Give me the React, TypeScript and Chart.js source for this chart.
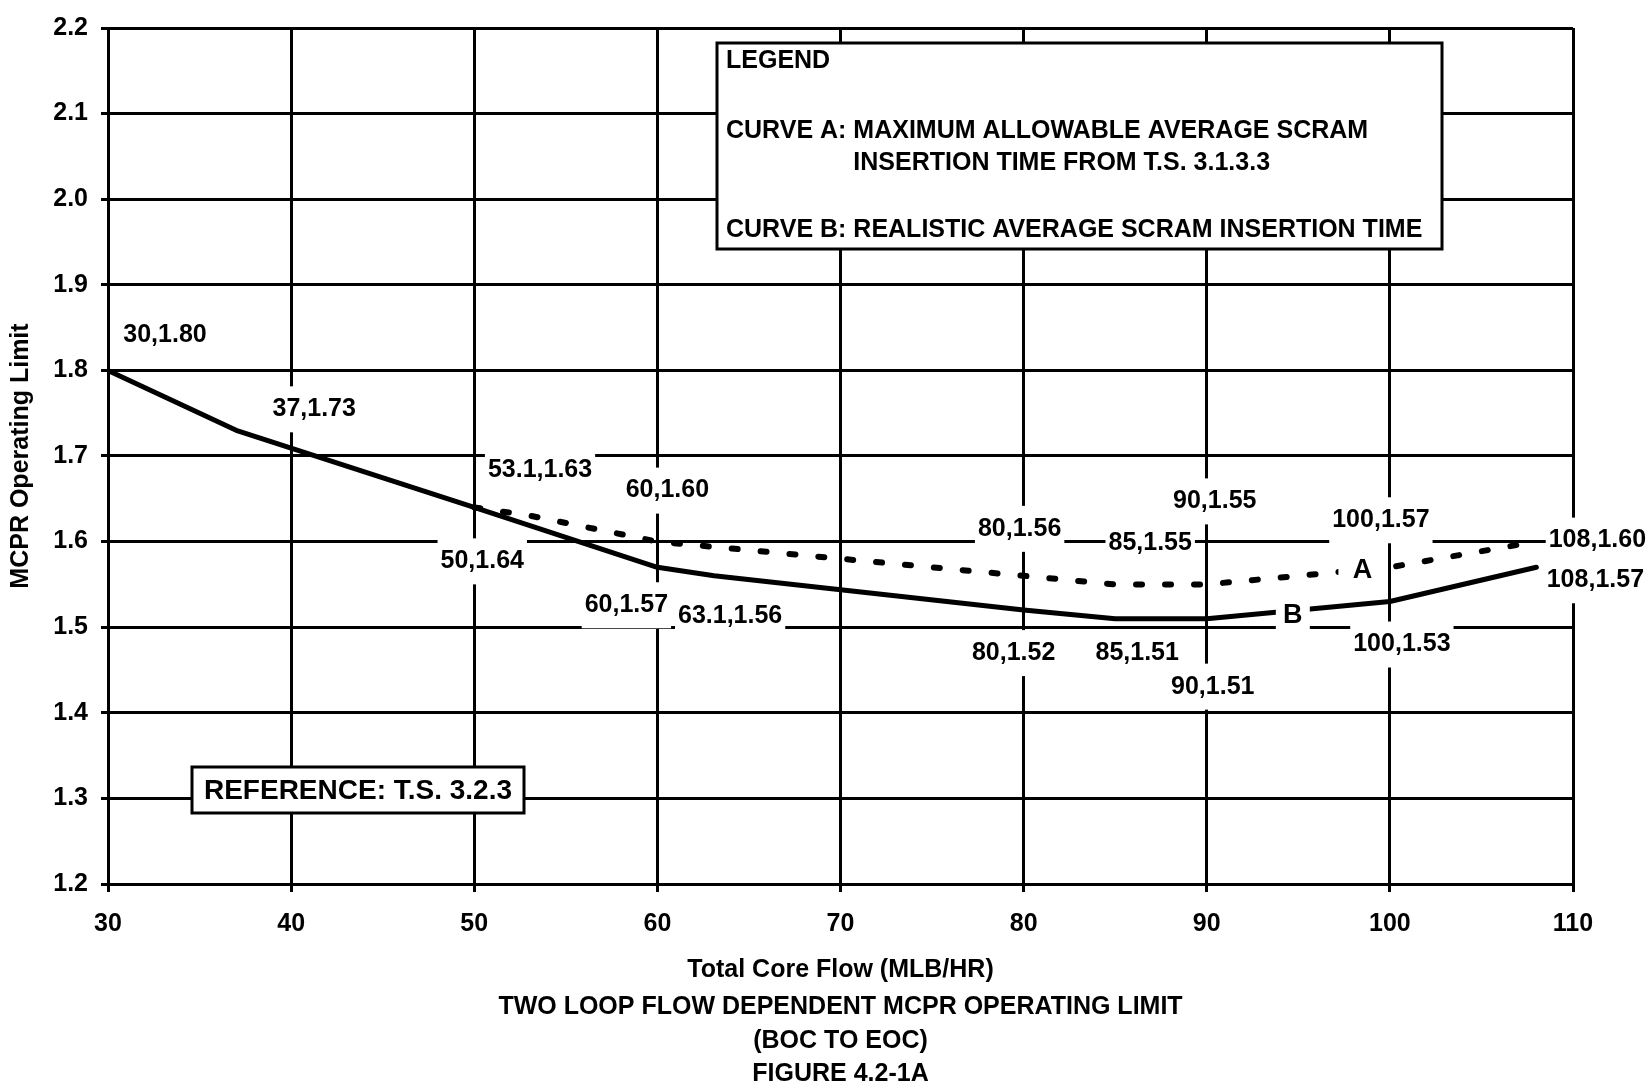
import { useEffect, useRef } from "react";
import { Chart, registerables } from "chart.js";

Chart.register(...registerables);

// Curve B: realistic average scram insertion time
const FLOW_B = [30, 37, 50, 60, 63.1, 80, 85, 90, 100, 108];
const MCPR_B = [1.8, 1.73, 1.64, 1.57, 1.56, 1.52, 1.51, 1.51, 1.53, 1.57];

// Curve A: maximum allowable average scram insertion time
const FLOW_A = [50, 53.1, 60, 80, 85, 90, 100, 108];
const MCPR_A = [1.64, 1.63, 1.6, 1.56, 1.55, 1.55, 1.57, 1.6];

const X_MIN = 30;
const X_MAX = 110;
const X_STEP = 10;
const Y_MIN = 1.2;
const Y_MAX = 2.2;
const Y_STEP = 0.1;

const X_TITLE = "Total Core Flow (MLB/HR)";
const Y_TITLE = "MCPR Operating Limit";
const CAPTION = [
  "TWO LOOP FLOW DEPENDENT MCPR OPERATING LIMIT",
  "(BOC TO EOC)",
  "FIGURE 4.2-1A",
];
const LEGEND_TITLE = "LEGEND";
const CURVE_A_PREFIX = "CURVE A: ";
const CURVE_A_LINES = ["MAXIMUM ALLOWABLE AVERAGE SCRAM", "INSERTION TIME FROM T.S. 3.1.3.3"];
const CURVE_B_LINE = "CURVE B: REALISTIC AVERAGE SCRAM INSERTION TIME";
const REFERENCE_TEXT = "REFERENCE: T.S. 3.2.3";

// Pixel offsets of each point's "flow,limit" label from the point (null = no label)
const LABEL_OFFSETS_B = [
  [57, -35], [78, -21], [8, 54], [-31, 38], [16, 40],
  [-10, 43], [22, 34], [6, 68], [12, 43], [59, 13],
];
const LABEL_OFFSETS_A = [
  null, [9, -46], [10, -51], [-4, -47], [35, -41], [8, -83], [-9, -47], [61, -1],
];

// Curve letters sit on their own curve at these flows
const TAG_A_FLOW = 98.5;
const TAG_B_FLOW = 94.7;

const FAMILY = "'Liberation Sans', Arial, Helvetica, sans-serif";
const bold = (size: number) => `bold ${size}px ${FAMILY}`;

function interpolate(xs: number[], ys: number[], x: number): number {
  for (let i = 0; i < xs.length - 1; i++) {
    if (x >= xs[i] && x <= xs[i + 1]) {
      const t = (x - xs[i]) / (xs[i + 1] - xs[i]);
      return ys[i] + t * (ys[i + 1] - ys[i]);
    }
  }
  return ys[ys.length - 1];
}

const figureText = {
  id: "figureText",
  beforeDraw(chart: any) {
    const { ctx, width, height } = chart;
    ctx.save();
    ctx.fillStyle = "#fff";
    ctx.fillRect(0, 0, width, height);
    ctx.restore();
  },
  afterDatasetsDraw(chart: any) {
    const { ctx } = chart;
    const xs = chart.scales.x;
    const ys = chart.scales.y;
    ctx.save();

    // value labels on white boxes
    const items: { text: string; cx: number; cy: number }[] = [];
    const collect = (flows: number[], vals: number[], offs: (number[] | null)[]) => {
      flows.forEach((f, i) => {
        const o = offs[i];
        if (!o) return;
        items.push({
          text: `${f},${vals[i].toFixed(2)}`,
          cx: xs.getPixelForValue(f) + o[0],
          cy: ys.getPixelForValue(vals[i]) + o[1],
        });
      });
    };
    collect(FLOW_B, MCPR_B, LABEL_OFFSETS_B);
    collect(FLOW_A, MCPR_A, LABEL_OFFSETS_A);

    ctx.font = bold(25);
    ctx.fillStyle = "#fff";
    items.forEach((it) => {
      const w = ctx.measureText(it.text).width + 6;
      ctx.fillRect(it.cx - w / 2, it.cy - 23, w, 46);
    });
    ctx.fillStyle = "#000";
    ctx.textAlign = "center";
    ctx.textBaseline = "middle";
    items.forEach((it) => ctx.fillText(it.text, it.cx, it.cy));

    // curve letters breaking their curves
    const tags = [
      { text: "A", flow: TAG_A_FLOW, val: interpolate(FLOW_A, MCPR_A, TAG_A_FLOW), w: 48, dy: 0 },
      { text: "B", flow: TAG_B_FLOW, val: interpolate(FLOW_B, MCPR_B, TAG_B_FLOW), w: 34, dy: 4 },
    ];
    ctx.font = bold(27);
    tags.forEach((t) => {
      const cx = xs.getPixelForValue(t.flow);
      const cy = ys.getPixelForValue(t.val) + t.dy;
      ctx.fillStyle = "#fff";
      ctx.fillRect(cx - t.w / 2, cy - 15, t.w, 30);
      ctx.fillStyle = "#000";
      ctx.fillText(t.text, cx, cy + 1);
    });

    // legend box
    const lx = 717, ly = 43, lw = 725, lh = 206;
    ctx.fillStyle = "#fff";
    ctx.fillRect(lx, ly, lw, lh);
    ctx.strokeStyle = "#000";
    ctx.lineWidth = 3;
    ctx.strokeRect(lx, ly, lw, lh);
    ctx.fillStyle = "#000";
    ctx.font = bold(25);
    ctx.textAlign = "left";
    const tx = lx + 9;
    ctx.fillText(LEGEND_TITLE, tx, ly + 18);
    ctx.fillText(CURVE_A_PREFIX + CURVE_A_LINES[0], tx, ly + 88);
    const indent = ctx.measureText(CURVE_A_PREFIX).width;
    ctx.fillText(CURVE_A_LINES[1], tx + indent, ly + 120);
    ctx.fillText(CURVE_B_LINE, tx, ly + 187);

    // reference box
    const rx = 192, ry = 767, rw = 332, rh = 46;
    ctx.fillStyle = "#fff";
    ctx.fillRect(rx, ry, rw, rh);
    ctx.strokeRect(rx, ry, rw, rh);
    ctx.fillStyle = "#000";
    ctx.font = bold(28);
    ctx.textAlign = "center";
    ctx.fillText(REFERENCE_TEXT, rx + rw / 2, ry + rh / 2 + 1);

    ctx.restore();
  },
  afterDraw(chart: any) {
    const { ctx, chartArea } = chart;
    ctx.save();
    ctx.fillStyle = "#000";
    ctx.font = bold(25);
    ctx.textAlign = "center";
    ctx.textBaseline = "middle";
    const cx = (chartArea.left + chartArea.right) / 2;
    const ys = [1007, 1041, 1074];
    CAPTION.forEach((line, i) => ctx.fillText(line, cx, ys[i]));
    ctx.restore();
  },
};

export default function App() {
  const canvasRef = useRef<HTMLCanvasElement | null>(null);

  useEffect(() => {
    document.body.style.margin = "0";
    document.body.style.overflow = "hidden";
    const canvas = canvasRef.current;
    if (!canvas) return;

    const tickFont = { family: FAMILY, size: 25, weight: "bold" as const };

    const chart = new Chart(canvas, {
      type: "line",
      data: {
        datasets: [
          {
            label: "Curve B",
            data: FLOW_B.map((f, i) => ({ x: f, y: MCPR_B[i] })),
            borderColor: "#000",
            borderWidth: 5,
            pointRadius: 0,
            tension: 0,
            fill: false,
            borderJoinStyle: "round",
            borderCapStyle: "round",
          },
          {
            label: "Curve A",
            data: FLOW_A.map((f, i) => ({ x: f, y: MCPR_A[i] })),
            borderColor: "#000",
            borderWidth: 6,
            borderDash: [6, 23],
            borderCapStyle: "round",
            pointRadius: 0,
            tension: 0,
            fill: false,
          },
        ],
      },
      options: {
        responsive: false,
        animation: false,
        devicePixelRatio: 1,
        layout: { padding: { left: 0, right: 78, top: 24, bottom: 90 } },
        plugins: {
          legend: { display: false },
          tooltip: { enabled: false },
          title: { display: false },
        },
        scales: {
          x: {
            type: "linear",
            min: X_MIN,
            max: X_MAX,
            ticks: {
              stepSize: X_STEP,
              color: "#000",
              font: tickFont,
              padding: 17,
              maxRotation: 0,
            },
            grid: {
              color: "#000",
              lineWidth: 3,
              tickLength: 8,
              tickWidth: 3,
              tickColor: "#000",
            },
            border: { color: "#000", width: 3 },
            title: {
              display: true,
              text: X_TITLE,
              color: "#000",
              font: tickFont,
              padding: { top: 0, bottom: 11 },
            },
            afterFit(scale: any) {
              scale.height = 112;
            },
          },
          y: {
            type: "linear",
            min: Y_MIN,
            max: Y_MAX,
            ticks: {
              stepSize: Y_STEP,
              color: "#000",
              font: tickFont,
              padding: 13,
              callback: (v: any) => Number(v).toFixed(1),
            },
            grid: {
              color: "#000",
              lineWidth: 3,
              tickLength: 7,
              tickWidth: 3,
              tickColor: "#000",
            },
            border: { color: "#000", width: 3 },
            title: {
              display: true,
              text: Y_TITLE,
              color: "#000",
              font: tickFont,
              padding: { top: 6, bottom: 0 },
            },
            afterFit(scale: any) {
              scale.width = 108;
            },
          },
        },
      },
      plugins: [figureText],
    });

    return () => chart.destroy();
  }, []);

  return (
    <div style={{ width: 1651, height: 1086 }}>
      <canvas ref={canvasRef} width={1651} height={1086} style={{ display: "block" }} />
    </div>
  );
}
